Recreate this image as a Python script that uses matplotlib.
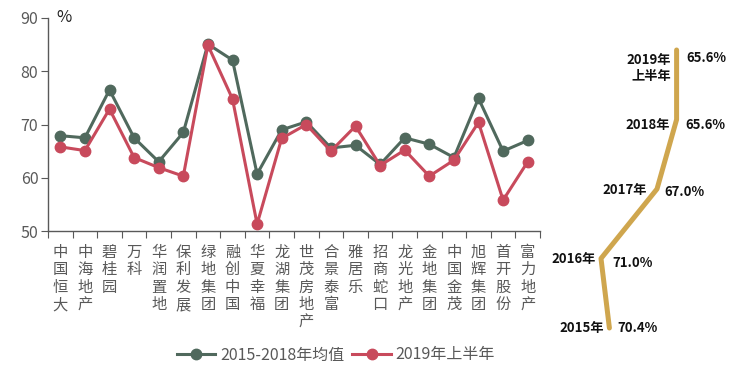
import matplotlib
matplotlib.use("Agg")
import matplotlib.pyplot as plt
from matplotlib.lines import Line2D

plt.rcParams['font.family'] = ['Noto Sans CJK SC', 'DejaVu Sans']

companies = ["中国恒大", "中海地产", "碧桂园", "万科", "华润置地", "保利发展", "绿地集团",
             "融创中国", "华夏幸福", "龙湖集团", "世茂房地产", "合景泰富", "雅居乐", "招商蛇口",
             "龙光地产", "金地集团", "中国金茂", "旭辉集团", "首开股份", "富力地产"]
avg_2015_2018 = [67.9, 67.5, 76.5, 67.5, 63.0, 68.5, 85.1, 82.1, 60.7, 69.0,
                 70.5, 65.6, 66.1, 62.5, 67.5, 66.3, 63.8, 74.9, 65.0, 67.0]
h1_2019 = [65.8, 65.1, 72.9, 63.8, 61.9, 60.3, 84.9, 74.8, 51.3, 67.4,
           70.0, 65.0, 69.7, 62.3, 65.2, 60.3, 63.3, 70.4, 55.8, 63.0]
series_names = ["2015-2018年均值", "2019年上半年"]

years = ["2015年", "2016年", "2017年", "2018年", "2019年\n上半年"]
industry_rate = [70.4, 71.0, 67.0, 65.6, 65.6]
industry_labels = ["70.4%", "71.0%", "67.0%", "65.6%", "65.6%"]

GREEN = "#50695d"
RED = "#c84a5c"
GOLD = "#cfa64e"
GRAY = "#595959"

W, H = 735, 371
fig = plt.figure(figsize=(W / 100, H / 100), dpi=100)

# main axes
x0, x1, ytop, ybot = 48, 540, 18, 231
ax = fig.add_axes([x0 / W, (H - ybot) / H, (x1 - x0) / W, (ybot - ytop) / H])
n = len(companies)
xs = list(range(n))
ax.plot(xs, avg_2015_2018, color=GREEN, lw=2.2, marker='o', ms=7.5, zorder=3)
ax.plot(xs, h1_2019, color=RED, lw=2.2, marker='o', ms=7.5, zorder=3)
ax.set_xlim(-0.5, n - 0.5)
ax.set_ylim(50, 90)
ax.set_yticks([50, 60, 70, 80, 90])
ax.set_xticks([i - 0.5 for i in range(n + 1)])
ax.set_xticklabels([])
ax.set_xticks(xs, minor=True)
ax.set_xticklabels(["\n".join(c) for c in companies], minor=True)
ax.tick_params(axis='x', which='minor', length=0, pad=9, labelsize=11, labelcolor=GRAY)
ax.tick_params(axis='x', which='major', length=5, color=GRAY, direction='out')
ax.tick_params(axis='y', length=5, color=GRAY, labelsize=11.5, labelcolor=GRAY, pad=2)
for lab in ax.get_xticklabels(minor=True):
    lab.set_linespacing(1.05)
for s in ['top', 'right']:
    ax.spines[s].set_visible(False)
for s in ['left', 'bottom']:
    ax.spines[s].set_color(GRAY)
    ax.spines[s].set_linewidth(1.0)
ax.text(0.018, 1.04, "%", transform=ax.transAxes, fontsize=12, color="#222222",
        va='top', ha='left')

handles = [Line2D([], [], color=GREEN, lw=2.2, marker='o', ms=7.5),
           Line2D([], [], color=RED, lw=2.2, marker='o', ms=7.5)]
fig.legend(handles, series_names, loc='center', bbox_to_anchor=(336 / W, (H - 355) / H),
           ncol=2, frameon=False, fontsize=11.5, handlelength=2.4, handletextpad=0.3,
           columnspacing=0.5, labelcolor=GRAY)

# right panel
rx0, rx1, rytop, rybot = 580, 700, 20, 350
ax2 = fig.add_axes([rx0 / W, (H - rybot) / H, (rx1 - rx0) / W, (rybot - rytop) / H])
px_per_unit = 14.0
vmax = 71.0 + (601 - rx0) / px_per_unit
vmin = 71.0 - (rx1 - 601) / px_per_unit
ypx = 69.5
ax2.set_xlim(vmax, vmin)
ax2.set_ylim((328 - rybot) / ypx, (328 - rytop) / ypx)
yi = list(range(len(years)))
ax2.plot(industry_rate, yi, color=GOLD, lw=3.6, solid_capstyle='round', solid_joinstyle='round')
ax2.axis('off')

lab_off = [(-4, 0), (-4, 0), (-7, -1), (-5, -4), (-4, -2)]
val_off = [(6, 0), (8, -3), (5, -2), (6, -4), (7, -6)]
for i, (v, yl, vl) in enumerate(zip(industry_rate, years, industry_labels)):
    va_l = 'top' if "\n" in yl else 'center'
    ax2.annotate(yl, (v, i), xytext=lab_off[i], textcoords='offset points', ha='right', va=va_l,
                 fontsize=9.5, fontweight='bold', color='#111111', linespacing=1.2,
                 annotation_clip=False)
    ax2.annotate(vl, (v, i), xytext=val_off[i], textcoords='offset points', ha='left',
                 va='center', fontsize=9.5, fontweight='bold', color='#111111',
                 annotation_clip=False)

fig.savefig("out.png", dpi=100)
